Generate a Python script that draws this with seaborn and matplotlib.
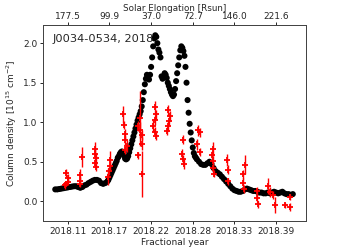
import numpy as np
import pandas as pd
import matplotlib
matplotlib.use("Agg")
from matplotlib import pyplot as plt
import seaborn as sns

# model curve (black), day of year 2018
black_doy = [35, 36, 37, 38, 39, 40, 41, 42, 43, 44, 45, 46, 47, 48, 49, 50, 51, 52, 53, 54,
             55, 56, 57, 58, 59, 60, 60.5, 61, 61.5, 62, 62.5, 63, 63.5, 64, 64.5, 65, 65.5,
             66, 66.5, 67, 67.5, 68, 68.5, 69, 69.5, 70, 70.5, 71, 71.5, 72, 72.5, 73, 73.5,
             74, 74.5, 75, 75.5, 76, 76.5, 77, 77.5, 78, 78.5, 79, 79.5, 80, 80.5, 81, 81.5,
             82, 82.5, 83, 83.5, 84, 84.5, 85, 85.5, 86, 86.5, 87, 87.5, 88, 88.5, 89, 89.5,
             90, 90.5, 91, 91.5, 92, 92.5, 93, 93.5, 94, 94.5, 95, 95.5, 96, 96.5, 97, 97.5,
             98, 98.5, 99, 99.5, 100, 100.5, 101, 101.5, 102, 102.5, 103, 104, 105, 106, 107,
             108, 109, 110, 111, 112, 113, 114, 115, 116, 117, 118, 119, 120, 121, 122, 123,
             124, 125, 126, 127, 128, 129, 130, 131, 132, 133, 134, 135, 136, 137, 138, 139,
             140, 141, 142, 143, 144, 145, 146, 147, 148, 149]
black_val = [0.15, 0.15, 0.155, 0.16, 0.165, 0.17, 0.175, 0.18, 0.185, 0.19, 0.19, 0.18, 0.17,
             0.18, 0.20, 0.21, 0.23, 0.245, 0.26, 0.27, 0.27, 0.26, 0.23, 0.22, 0.23, 0.25, 0.27,
             0.30, 0.33, 0.36, 0.39, 0.42, 0.45, 0.48, 0.51, 0.55, 0.57, 0.60, 0.62, 0.63, 0.61,
             0.58, 0.54, 0.53, 0.54, 0.57, 0.62, 0.67, 0.72, 0.77, 0.82, 0.87, 0.92, 0.97, 1.02,
             1.06, 1.10, 1.14, 1.20, 1.28, 1.38, 1.48, 1.55, 1.60, 1.58, 1.54, 1.60, 1.70, 1.82,
             1.96, 2.06, 2.10, 2.08, 2.00, 1.92, 1.88, 1.82, 1.58, 1.55, 1.58, 1.62, 1.60, 1.56,
             1.50, 1.46, 1.42, 1.38, 1.35, 1.33, 1.35, 1.42, 1.52, 1.62, 1.72, 1.82, 1.91, 1.96,
             1.94, 1.90, 1.84, 1.70, 1.50, 1.28, 1.12, 0.98, 0.87, 0.77, 0.68, 0.61, 0.57, 0.55,
             0.53, 0.50, 0.47, 0.46, 0.46, 0.48, 0.50, 0.47, 0.42, 0.38, 0.36, 0.34, 0.31, 0.28,
             0.25, 0.22, 0.19, 0.16, 0.14, 0.13, 0.12, 0.12, 0.13, 0.15, 0.16, 0.15, 0.14, 0.13,
             0.13, 0.12, 0.11, 0.11, 0.10, 0.10, 0.11, 0.10, 0.11, 0.12, 0.11, 0.10, 0.11, 0.12,
             0.10, 0.09, 0.09, 0.08, 0.09]

# measurements (red) with errors
red_doy = [39.5, 40.3, 40.9, 41.3, 40.2,
           46.7, 46.9, 47.1, 47.6,
           53.9, 54.3, 54.7, 53.9, 54.7,
           61.1, 61.3, 60.5, 60.8,
           67.7, 68.2, 68.5, 68.7, 69.3, 68.3,
           75.7, 74.9, 75.7, 76.5, 76.5, 74.9, 76.5,
           82.9, 83.4, 82.9, 82.1, 82.9, 83.4,
           89.3, 90.1, 89.6, 89.3, 88.6,
           96.5, 95.7, 96.5, 96.8,
           103.7, 104.5, 102.9, 104.5,
           110.9, 110.1, 110.9, 110.9, 111.2,
           117.3, 118.1, 118.1,
           126.1, 125.3, 125.3, 125.6,
           131.7, 131.7, 132.5,
           137.3, 138.1, 139.7, 140.5,
           145.3, 147.7, 147.7]
red_val = [0.20, 0.36, 0.30, 0.24, 0.22,
           0.33, 0.26, 0.22, 0.56,
           0.66, 0.60, 0.55, 0.48, 0.43,
           0.52, 0.45, 0.31, 0.38,
           1.10, 0.96, 0.85, 0.77, 0.70, 0.65,
           1.05, 0.95, 0.90, 0.84, 0.73, 0.58, 0.35,
           1.19, 1.10, 1.03, 0.95, 0.88, 0.82,
           1.15, 1.08, 1.02, 0.95, 0.89,
           0.78, 0.60, 0.53, 0.47,
           0.90, 0.87, 0.72, 0.62,
           0.66, 0.58, 0.51, 0.42, 0.35,
           0.52, 0.40, 0.25,
           0.46, 0.34, 0.23, 0.16,
           0.13, 0.04, -0.04,
           0.19, 0.12, 0.08, -0.05,
           -0.05, 0.05, -0.07]
red_err = [0.04, 0.05, 0.05, 0.04, 0.03,
           0.08, 0.05, 0.04, 0.13,
           0.09, 0.06, 0.06, 0.05, 0.05,
           0.12, 0.06, 0.11, 0.05,
           0.11, 0.05, 0.06, 0.06, 0.08, 0.05,
           0.35, 0.06, 0.10, 0.06, 0.08, 0.04, 0.29,
           0.08, 0.06, 0.06, 0.08, 0.06, 0.05,
           0.07, 0.06, 0.05, 0.06, 0.05,
           0.06, 0.06, 0.05, 0.06,
           0.07, 0.06, 0.07, 0.05,
           0.09, 0.06, 0.06, 0.05, 0.04,
           0.08, 0.06, 0.05,
           0.12, 0.06, 0.06, 0.05,
           0.05, 0.05, 0.04,
           0.10, 0.06, 0.05, 0.10,
           0.03, 0.04, 0.05]

tick_doy = [41, 61, 81, 101, 121, 141]
tick_labels = ["2018.11", "2018.17", "2018.22", "2018.28", "2018.33", "2018.39"]
elong_labels = ["177.5", "99.9", "37.0", "72.7", "146.0", "221.6"]

black = pd.DataFrame({"year": 2018 + np.array(black_doy) / 365, "dens": black_val})
red = pd.DataFrame({"year": 2018 + np.array(red_doy) / 365, "dens": red_val, "err": red_err})
ticks = 2018 + np.array(tick_doy) / 365

sns.set_style("ticks")
plt.rcParams["font.family"] = ["DejaVu Sans"]
plt.rcParams["xtick.labelsize"] = 6.5
plt.rcParams["ytick.labelsize"] = 6.5
plt.rcParams["xtick.major.size"] = 2.5
plt.rcParams["ytick.major.size"] = 2.5

fig = plt.figure(figsize=(3.4, 2.5), dpi=100)
ax = fig.add_axes([0.1265, 0.116, 0.774, 0.784])

sns.scatterplot(data=black, x="year", y="dens", color="black", s=19,
                edgecolor="none", linewidth=0, ax=ax, zorder=2)
ax.errorbar(red["year"], red["dens"], yerr=red["err"], fmt="+", color="red",
            ms=4, mew=1.3, elinewidth=1, capsize=0, zorder=3)

ax.set_xlim(2018.0798, 2018.4258)
ax.set_ylim(-0.25, 2.23)
ax.set_xticks(ticks)
ax.set_xticklabels(tick_labels)
ax.set_yticks([0.0, 0.5, 1.0, 1.5, 2.0])
ax.set_xlabel("Fractional year", fontsize=6.5, labelpad=1.5)
ax.set_ylabel("Column density [10$^{15}$ cm$^{-2}$]", fontsize=6.5, labelpad=3)
ax.text(0.035, 0.955, "J0034-0534, 2018", transform=ax.transAxes, fontsize=8.2,
        ha="left", va="top")

top = ax.twiny()
top.set_xlim(ax.get_xlim())
top.set_xticks(ticks)
top.set_xticklabels(elong_labels)
top.set_xlabel("Solar Elongation [Rsun]", fontsize=6.3, labelpad=1.3)

for a in (ax, top):
    a.tick_params(width=0.7)
    for s in a.spines.values():
        s.set_linewidth(0.7)
        s.set_color("#444444")
ax.tick_params(axis="x", pad=2)
ax.tick_params(axis="y", pad=1.5)
top.tick_params(axis="x", pad=0.6, length=2)

fig.savefig("out.png", dpi=100)
